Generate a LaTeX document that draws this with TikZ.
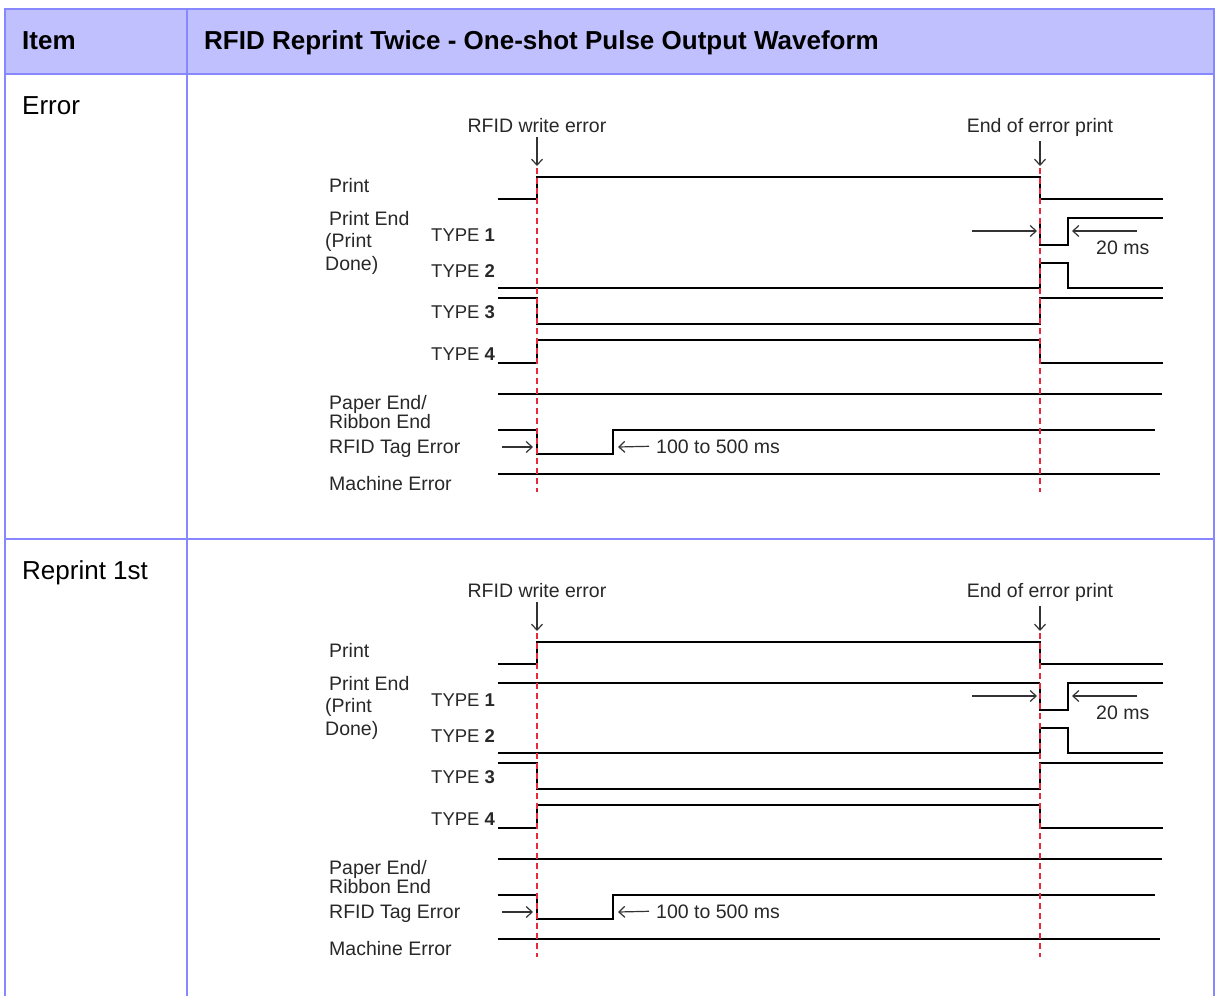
\documentclass[tikz,border=0pt]{standalone}
\usepackage{fontspec}
\setmainfont{Liberation Sans}
\usetikzlibrary{arrows.meta}
\definecolor{tblline}{RGB}{135,135,255}
\definecolor{tblhead}{RGB}{192,192,255}
\definecolor{mkred}{RGB}{232,40,60}
\definecolor{txtgray}{RGB}{40,40,40}
\tikzset{
 wave/.style={line width=2.8pt, black, line cap=butt, line join=miter},
 marker/.style={mkred, line width=1.8pt, dash pattern=on 6pt off 4pt},
 thinarrow/.style={line width=1.2pt, black!80, -{Straight Barb[length=6pt,width=11pt,line width=1.2pt]}},
 lbl/.style={font=\fontsize{19.5}{22}\selectfont, text=txtgray, inner sep=0pt, anchor=base west},
 typelbl/.style={font=\fontsize{18.5}{22}\selectfont, text=txtgray, inner sep=0pt, anchor=base west},
 toplbl/.style={font=\fontsize{19.5}{22}\selectfont, text=txtgray, inner sep=0pt, anchor=base},
 celltext/.style={font=\fontsize{26}{30}\selectfont, text=black, inner sep=0pt, anchor=base west},
 headtext/.style={celltext, font=\fontsize{26}{30}\selectfont\bfseries},
 tblrule/.style={tblline, line width=2pt},
}
\newcommand\tdiag[3]{%
\begin{scope}[shift={(0,#2)}]
 % top labels and arrows
 \node[toplbl] (#1rwe) at (537,132) {RFID write error};
 \node[toplbl] (#1eep) at (1040,132) {End of error print};
 \coordinate (#1rwetip) at (537,166);
 \coordinate (#1eeptip) at (1040,166);
 \draw[thinarrow] ([yshift=-5pt]#1rwe.south) -- (#1rwetip);
 \draw[thinarrow] ([yshift=-5pt]#1eep.south) -- (#1eeptip);
 % signal labels
 \node[lbl] (#1print) at (329,192) {Print};
 \node[lbl] (#1pend) at (329,225) {Print End};
 \node[lbl] (#1pdone1) at (325,247) {(Print};
 \node[lbl] (#1pdone2) at (325,270) {Done)};
 \node[typelbl] (#1t1) at (431,241) {TYPE \textbf{1}};
 \node[typelbl] (#1t2) at (431,277) {TYPE \textbf{2}};
 \node[typelbl] (#1t3) at (431,318) {TYPE \textbf{3}};
 \node[typelbl] (#1t4) at (431,360) {TYPE \textbf{4}};
 \node[lbl] (#1paper) at (329,409) {Paper End/};
 \node[lbl] (#1ribbon) at (329,428) {Ribbon End};
 \node[lbl] (#1tag) at (329,453) {RFID Tag Error};
 \node[lbl] (#1mach) at (329,490) {Machine Error};
 \node[lbl] (#1ms20) at (1096,254) {20 ms};
 \node[lbl] (#1ms100) at (656,453) {100 to 500 ms};
 % waveforms
 \draw[wave] (498,199) -- (537,199) -- (537,177) -- (1040,177) -- (1040,199) -- (1163,199);
 \ifnum#3=1 \draw[wave] (498,218) -- (1040,218); \fi
 \draw[wave] (1040,218) -- (1040,245) -- (1068,245) -- (1068,218) -- (1163,218);
 \draw[wave] (498,288) -- (1040,288) -- (1040,263) -- (1068,263) -- (1068,288) -- (1163,288);
 \draw[wave] (498,298) -- (537,298) -- (537,324) -- (1040,324) -- (1040,298) -- (1163,298);
 \draw[wave] (498,363) -- (537,363) -- (537,340) -- (1040,340) -- (1040,363) -- (1163,363);
 \draw[wave] (498,394) -- (1162,394);
 \draw[wave] (498,430) -- (537,430) -- (537,454) -- (613,454) -- (613,430) -- (1155,430);
 \draw[wave] (498,474) -- (1160,474);
 % timing arrows
 \coordinate (#1a20s) at (972,231); \coordinate (#1a20e) at (1037,231);
 \coordinate (#1b20s) at (1137,231); \coordinate (#1b20e) at (1072,231);
 \draw[thinarrow] (#1a20s) -- (#1a20e);
 \draw[thinarrow] (#1b20s) -- (#1b20e);
 \coordinate (#1atgs) at (502,447); \coordinate (#1atge) at (533,447);
 \draw[thinarrow] (#1atgs) -- (#1atge);
 \coordinate (#1btge) at (618,447);
 \draw[thinarrow] ([xshift=-7pt]#1ms100.west) -- (#1btge);
 % marker lines
 \draw[marker] (537,168) -- (537,492);
 \draw[marker] (1040,168) -- (1040,492);
\end{scope}}
\begin{document}
\begin{tikzpicture}[x=1pt,y=-1pt]
\useasboundingbox (0,0) rectangle (1216,996);
\fill[white] (0,0) rectangle (1216,996);
\fill[tblhead] (5,9) rectangle (1214,74);
\draw[tblrule] (5,996) -- (5,9) -- (1214,9) -- (1214,996);
\draw[tblrule] (5,74) -- (1214,74);
\draw[tblrule] (5,539) -- (1214,539);
\draw[tblrule] (187,9) -- (187,996);
\node[headtext] (hitem) at (22,49) {Item};
\node[headtext] (hwave) at (204,49) {RFID Reprint Twice - One-shot Pulse Output Waveform};
\node[celltext] (cerror) at (22,114) {Error};
\node[celltext] (creprint) at (22,579) {Reprint 1st};
\tdiag{d1}{0}{0}
\tdiag{d2}{465}{1}
\end{tikzpicture}
\end{document}
